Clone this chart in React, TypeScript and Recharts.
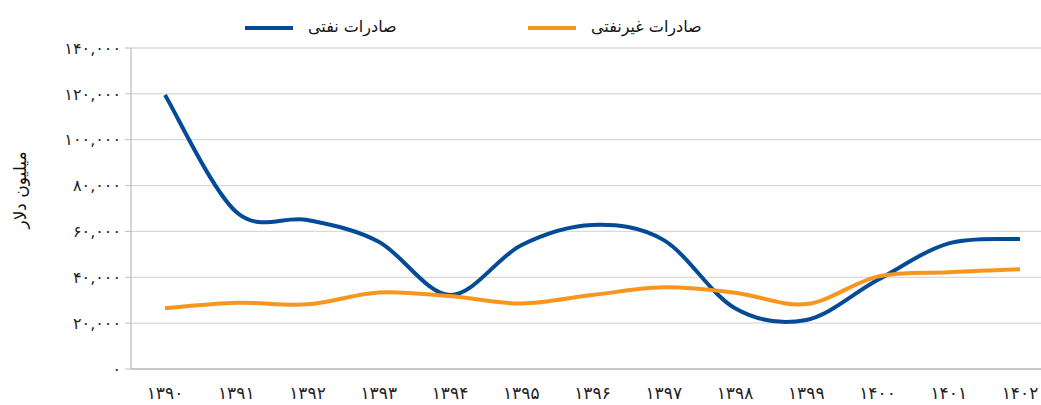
import { LineChart, Line, XAxis, YAxis, CartesianGrid } from "recharts";

const years = ["1390", "1391", "1392", "1393", "1394", "1395", "1396", "1397", "1398", "1399", "1400", "1401", "1402"];
const oilExports = [119500, 68500, 65000, 55500, 32300, 54000, 62800, 56200, 26500, 21400, 38800, 54800, 56700];
const nonOilExports = [26500, 28900, 28200, 33400, 31800, 28600, 32300, 35600, 33300, 28300, 40300, 42200, 43500];
const yTicks = [0, 20000, 40000, 60000, 80000, 100000, 120000, 140000];

const OIL = "صادرات نفتی";
const NON_OIL = "صادرات غیرنفتی";
const Y_TITLE = "میلیون دلار";

const BLUE = "#034b97";
const ORANGE = "#f7961f";
const FONT = "'DejaVu Sans', 'Noto Sans', sans-serif";

const toFa = (s: string) => s.replace(/\d/g, (d) => "۰۱۲۳۴۵۶۷۸۹"[Number(d)]);
const fmtY = (v: number) => toFa(v === 0 ? "0" : v.toLocaleString("en-US"));

const data = years.map((y, i) => ({ year: y, oil: oilExports[i], nonOil: nonOilExports[i] }));

// Excel style smoothed line (Catmull-Rom through every point)
function smoothCurve(context: any) {
  let pts: number[][] = [];
  return {
    areaStart() {},
    areaEnd() {},
    lineStart() {
      pts = [];
    },
    point(x: number, y: number) {
      pts.push([+x, +y]);
    },
    lineEnd() {
      const n = pts.length;
      if (!n) return;
      context.moveTo(pts[0][0], pts[0][1]);
      for (let i = 0; i < n - 1; i++) {
        const p0 = pts[Math.max(i - 1, 0)];
        const p1 = pts[i];
        const p2 = pts[i + 1];
        const p3 = pts[Math.min(i + 2, n - 1)];
        context.bezierCurveTo(
          p1[0] + (p2[0] - p0[0]) / 6,
          p1[1] + (p2[1] - p0[1]) / 6,
          p2[0] - (p3[0] - p1[0]) / 6,
          p2[1] - (p3[1] - p1[1]) / 6,
          p2[0],
          p2[1],
        );
      }
    },
  };
}

function LegendBox() {
  const items = [
    { label: OIL, color: BLUE, left: 245 },
    { label: NON_OIL, color: ORANGE, left: 528 },
  ];
  return (
    <>
      {items.map((it) => (
        <div
          key={it.label}
          style={{ position: "absolute", left: it.left, top: 12, height: 28, display: "flex", alignItems: "center", gap: 15 }}
        >
          <span style={{ width: 48, height: 4, background: it.color, display: "inline-block", marginTop: 4 }} />
          <span style={{ fontSize: 16, color: "#111", fontFamily: FONT, direction: "rtl" }}>{it.label}</span>
        </div>
      ))}
    </>
  );
}

export default function App() {
  return (
    <div style={{ position: "absolute", left: 0, top: 0, width: 1041, height: 405, background: "#fff" }}>
      <LegendBox />
      <LineChart width={1041} height={405} data={data} margin={{ top: 48, right: 0, bottom: 6, left: 0 }}>
        <CartesianGrid vertical={false} stroke="#d9d9d9" strokeWidth={1.3} />
        <XAxis
          dataKey="year"
          padding={{ left: 34, right: 21 }}
          tickFormatter={(v: string) => toFa(v)}
          tickLine={false}
          axisLine={{ stroke: "#bfbfbf", strokeWidth: 1.3 }}
          tick={{ fill: "#222", fontSize: 17, fontFamily: FONT, letterSpacing: 1 }}
          tickMargin={12}
          height={30}
          interval={0}
        />
        <YAxis
          width={131}
          domain={[0, 140000]}
          ticks={yTicks}
          tickFormatter={fmtY}
          tickSize={6}
          tickMargin={4}
          tickLine={{ stroke: "#bfbfbf" }}
          axisLine={{ stroke: "#bfbfbf", strokeWidth: 1.3 }}
          tick={{ fill: "#222", fontSize: 16, fontFamily: FONT, letterSpacing: 5 }}
          label={() => (
            <text
              x={20}
              y={190}
              transform="rotate(-90 20 190)"
              textAnchor="middle"
              dominantBaseline="central"
              fontSize={17}
              fontFamily={FONT}
              fill="#111"
            >
              {Y_TITLE}
            </text>
          )}
        />
        <Line
          dataKey="oil"
          name={OIL}
          type={smoothCurve as any}
          stroke={BLUE}
          strokeWidth={4}
          dot={false}
          activeDot={false}
          isAnimationActive={false}
        />
        <Line
          dataKey="nonOil"
          name={NON_OIL}
          type={smoothCurve as any}
          stroke={ORANGE}
          strokeWidth={4}
          dot={false}
          activeDot={false}
          isAnimationActive={false}
        />
      </LineChart>
    </div>
  );
}
